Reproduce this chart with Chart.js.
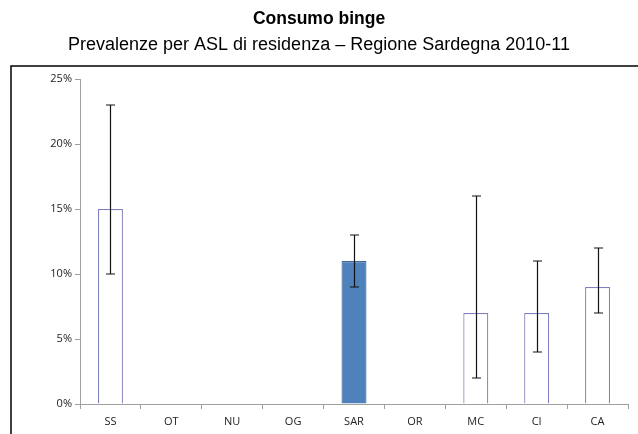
<!DOCTYPE html>
<html>
<head>
<meta charset="utf-8">
<script src="https://cdn.jsdelivr.net/npm/chart.js@4"></script>
<style>
  body { margin: 0; background: #fff; }
  #box { width: 638px; height: 434px; }
</style>
</head>
<body>
<div id="box"><canvas id="grafico" width="638" height="434"></canvas></div>
<script>
// dati (prevalenze in %)
var categorie = ['SS', 'OT', 'NU', 'OG', 'SAR', 'OR', 'MC', 'CI', 'CA'];
var prevalenza = [15, null, null, null, 11, null, 7, 7, 9];
var ic_inf = [10, null, null, null, 9, null, 2, 4, 7];
var ic_sup = [23, null, null, null, 13, null, 16, 11, 12];
var tick_y = [0, 5, 10, 15, 20, 25];

// colori: la barra della regione e' piena, le ASL solo bordo
var riempimento = categorie.map(function (c) { return c == 'SAR' ? '#4f81bd' : '#ffffff'; });
var bordo = categorie.map(function (c) { return c == 'SAR' ? '#41679a' : '#7f7fbf'; });

// titoli e cornice disegnati a mano
const cornice = {
  id: 'cornice',
  afterDraw(chart) {
    const ctx = chart.ctx;
    ctx.save();
    ctx.strokeStyle = '#000';
    ctx.lineWidth = 1.5;
    ctx.beginPath();
    ctx.moveTo(11, 434);
    ctx.lineTo(11, 66);
    ctx.lineTo(638, 66);
    ctx.stroke();

    ctx.fillStyle = '#000';
    ctx.textAlign = 'center';
    ctx.textBaseline = 'middle';
    ctx.font = 'bold 17.5px "Liberation Sans", Arial, sans-serif';
    ctx.fillText('Consumo binge', 319, 19);
    ctx.font = '18px "Liberation Sans", Arial, sans-serif';
    ctx.fillText('Prevalenze per ASL di residenza \u2013 Regione Sardegna 2010-11', 319, 45);
    ctx.restore();
  }
};

// barre di errore (intervalli di confidenza)
const barreErrore = {
  id: 'barreErrore',
  afterDatasetsDraw(chart) {
    const ctx = chart.ctx;
    const x = chart.scales.x;
    const y = chart.scales.y;
    ctx.save();
    ctx.strokeStyle = '#111';
    ctx.lineWidth = 1.2;
    for (var i = 0; i < categorie.length; i++) {
      if (ic_inf[i] == null) continue;
      var cx = Math.round(x.getPixelForValue(i)) + 0.5;
      var yb = y.getPixelForValue(ic_inf[i]);
      var yt = y.getPixelForValue(ic_sup[i]);
      ctx.beginPath();
      ctx.moveTo(cx, yb); ctx.lineTo(cx, yt);
      ctx.moveTo(cx - 4.5, yb); ctx.lineTo(cx + 4.5, yb);
      ctx.moveTo(cx - 4.5, yt); ctx.lineTo(cx + 4.5, yt);
      ctx.stroke();
    }
    ctx.restore();
  }
};

new Chart(document.getElementById('grafico'), {
  type: 'bar',
  data: {
    labels: categorie,
    datasets: [{
      data: prevalenza,
      backgroundColor: riempimento,
      borderColor: bordo,
      borderWidth: 1.2,
      categoryPercentage: 1,
      barPercentage: 0.41
    }]
  },
  options: {
    responsive: false,
    animation: false,
    layout: { padding: { top: 79, right: 10, left: 0, bottom: 0 } },
    plugins: {
      legend: { display: false },
      title: { display: false },
      tooltip: { enabled: false }
    },
    scales: {
      y: {
        min: 0,
        max: 25,
        afterFit: function (s) { s.width = 80; },
        afterBuildTicks: function (s) { s.ticks = tick_y.map(function (v) { return { value: v }; }); },
        border: { color: '#a0a0a0', width: 1 },
        grid: { drawOnChartArea: false, tickLength: 5, color: '#a0a0a0' },
        ticks: {
          padding: 3,
          color: '#222',
          font: { family: '"Open Sans", "Liberation Sans", sans-serif', size: 11 },
          callback: function (v) { return v + '%'; }
        }
      },
      x: {
        afterFit: function (s) { s.height = 30; },
        border: { color: '#a0a0a0', width: 1 },
        grid: { drawOnChartArea: false, tickLength: 5, color: '#a0a0a0', offset: true },
        ticks: {
          padding: 6,
          color: '#222',
          font: { family: '"Open Sans", "Liberation Sans", sans-serif', size: 11 }
        }
      }
    }
  },
  plugins: [cornice, barreErrore]
});
</script>
</body>
</html>
